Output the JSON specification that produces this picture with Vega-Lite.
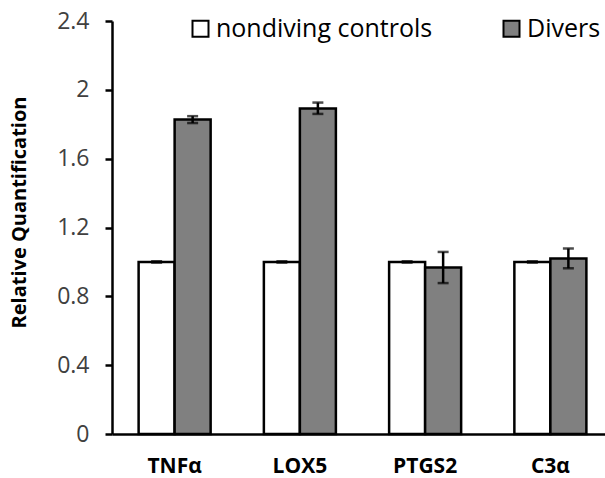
{
  "$schema": "https://vega.github.io/schema/vega-lite/v6.json",
  "width": 493,
  "height": 413,
  "autosize": {"type": "none"},
  "padding": {"left": 112, "top": 21, "right": 0, "bottom": 44},
  "background": "white",
  "config": {"view": {"stroke": null}, "font": "Open Sans"},
  "data": {"values": [
    {"gene": "TNFα", "group": "nondiving controls", "value": 1.0, "lo": 0.996, "hi": 1.004},
    {"gene": "TNFα", "group": "Divers", "value": 1.827, "lo": 1.807, "hi": 1.847},
    {"gene": "LOX5", "group": "nondiving controls", "value": 1.0, "lo": 0.996, "hi": 1.004},
    {"gene": "LOX5", "group": "Divers", "value": 1.892, "lo": 1.86, "hi": 1.926},
    {"gene": "PTGS2", "group": "nondiving controls", "value": 1.0, "lo": 0.996, "hi": 1.004},
    {"gene": "PTGS2", "group": "Divers", "value": 0.968, "lo": 0.877, "hi": 1.058},
    {"gene": "C3α", "group": "nondiving controls", "value": 1.0, "lo": 0.996, "hi": 1.004},
    {"gene": "C3α", "group": "Divers", "value": 1.02, "lo": 0.963, "hi": 1.078}
  ]},
  "encoding": {
    "x": {
      "field": "gene", "type": "nominal", "sort": ["TNFα", "LOX5", "PTGS2", "C3α"],
      "scale": {"range": [0, 501], "paddingInner": 0.425, "paddingOuter": 0.2125},
      "axis": {"title": null, "ticks": false, "labelAngle": 0, "labelFont": "Open Sans", "labelFontWeight": "bold", "labelFontSize": 21, "labelColor": "black", "labelPadding": 21, "domainColor": "black", "domainWidth": 2.5}
    },
    "xOffset": {"field": "group", "type": "nominal", "sort": ["nondiving controls", "Divers"], "scale": {"paddingInner": 0, "paddingOuter": 0}}
  },
  "layer": [
    {
      "mark": {"type": "bar", "stroke": "black", "strokeWidth": 2.5},
      "encoding": {
        "y": {"field": "value", "type": "quantitative",
          "scale": {"domain": [0, 2.4], "nice": false},
          "axis": {"values": [0, 0.4, 0.8, 1.2, 1.6, 2, 2.4], "labelExpr": "format(datum.value, '~g')", "grid": false, "title": "Relative Quantification", "titleFont": "Open Sans", "titleFontSize": 20, "titleFontWeight": "bold", "titleColor": "black", "titlePadding": 27, "titleY": 191, "labelFont": "Open Sans", "labelFontSize": 23, "labelColor": "#404040", "labelPadding": 16, "tickSize": 7, "tickColor": "black", "tickWidth": 2.5, "domainColor": "black", "domainWidth": 2.5}},
        "fill": {"field": "group", "type": "nominal", "sort": ["nondiving controls", "Divers"],
          "scale": {"domain": ["nondiving controls", "Divers"], "range": ["white", "#808080"]},
          "legend": {"title": null, "orient": "none", "legendX": 76, "legendY": -5, "direction": "horizontal", "symbolType": "square", "symbolSize": 256, "symbolStrokeColor": "black", "symbolStrokeWidth": 2, "labelFont": "Open Sans", "labelFontSize": 25, "labelColor": "black", "labelLimit": 400, "columnPadding": 66, "symbolOffset": 0, "labelOffset": 3, "padding": 0}}
      }
    },
    {
      "mark": {"type": "rule", "color": "black", "strokeWidth": 2.5},
      "encoding": {"y": {"field": "lo", "type": "quantitative"}, "y2": {"field": "hi"}}
    },
    {
      "mark": {"type": "tick", "color": "black", "thickness": 2.5, "size": 11, "orient": "horizontal"},
      "encoding": {"y": {"field": "lo", "type": "quantitative"}}
    },
    {
      "mark": {"type": "tick", "color": "black", "thickness": 2.5, "size": 11, "orient": "horizontal"},
      "encoding": {"y": {"field": "hi", "type": "quantitative"}}
    }
  ]
}
